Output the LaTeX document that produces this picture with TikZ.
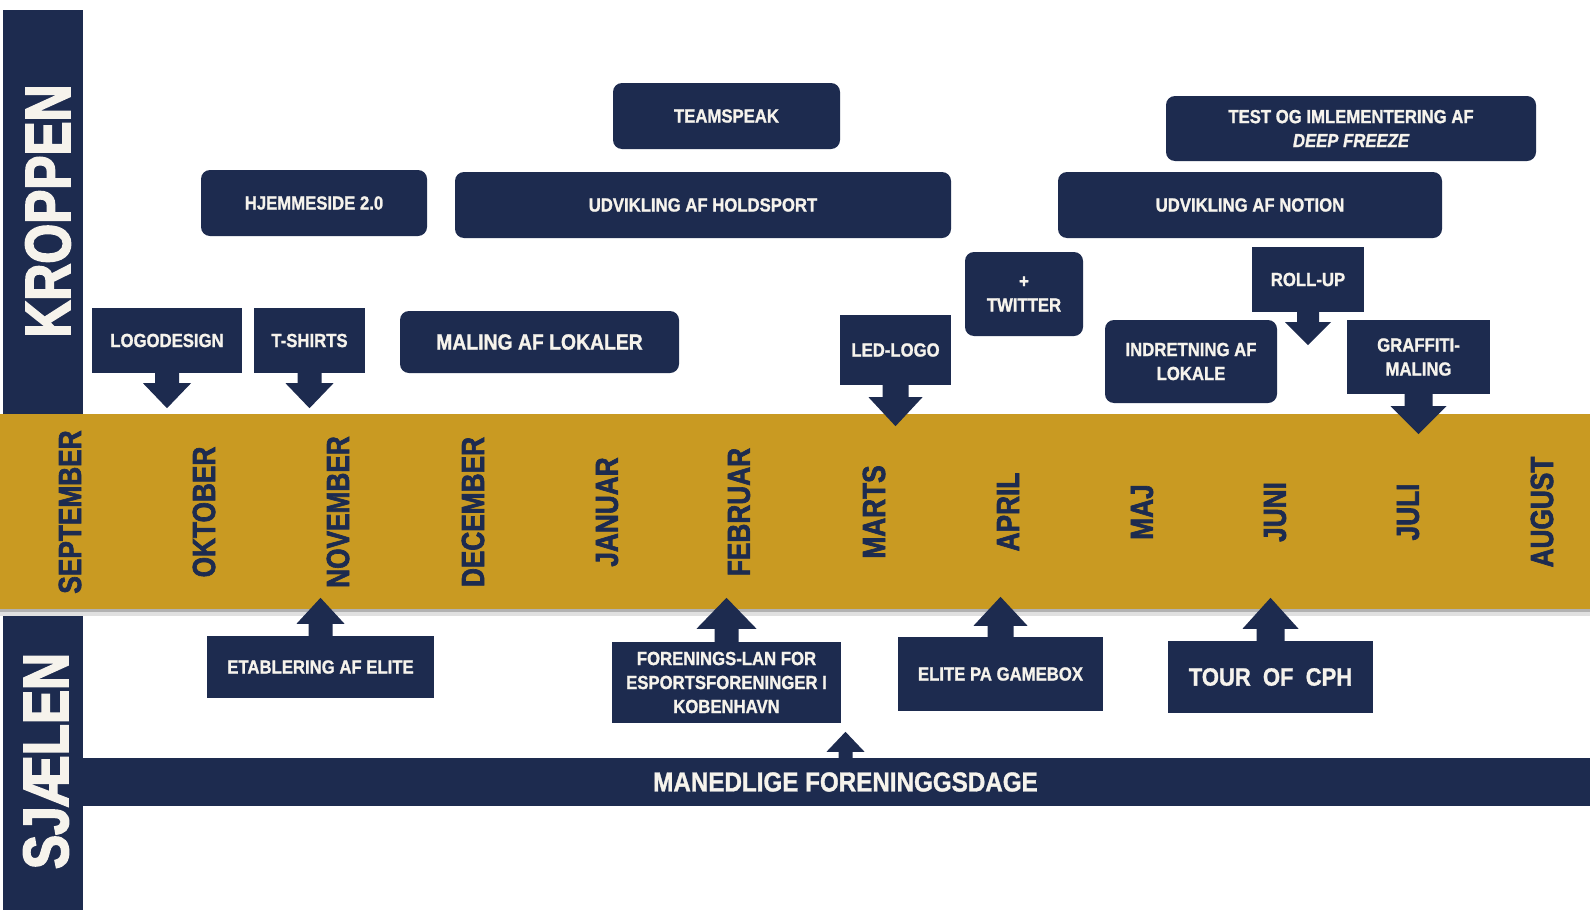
\documentclass[tikz,border=0pt]{standalone}
\usepackage{fontspec}
\newfontfamily\bxfont[FakeStretch=0.88, FakeBold=1.2, ItalicFont={Liberation Sans Bold Italic}]{Liberation Sans Bold}
\newfontfamily\mofont[FakeStretch=0.82, FakeBold=2]{Liberation Sans Bold}
\newfontfamily\bgfont[FakeStretch=0.8, FakeBold=2.5]{Liberation Sans Bold}
\definecolor{navy}{HTML}{1D2B4F}
\definecolor{gold}{HTML}{C99A22}
\definecolor{txt}{HTML}{F6F3EC}
\newcommand\arrdn[5]{%
 \fill[navy] (#1) ++(-#4pt,1pt) -- ++(0,-#2pt-1pt) -- ++(#4pt-#5pt,0) -- ++(#5pt,-#3pt) -- ++(#5pt,#3pt) -- ++(#4pt-#5pt,0) -- ++(0,#2pt+1pt) -- cycle;}
\newcommand\arrup[5]{%
 \fill[navy] (#1) ++(-#4pt,-1pt) -- ++(0,#2pt+1pt) -- ++(#4pt-#5pt,0) -- ++(#5pt,#3pt) -- ++(#5pt,-#3pt) -- ++(#4pt-#5pt,0) -- ++(0,-#2pt-1pt) -- cycle;}
\tikzset{
 base/.style={fill=navy, text=txt, inner sep=0pt, align=center},
 rbox/.style={base, rounded corners=9pt},
 sbox/.style={base},
 wh/.style 2 args={minimum width=#1pt, minimum height=#2pt},
 sm/.style={font=\bxfont\fontsize{19}{24}\selectfont},
 md/.style={font=\bxfont\fontsize{22}{26}\selectfont},
 lg/.style={font=\bxfont\fontsize{25}{28}\selectfont},
 month/.style={rotate=90, text=navy, font=\mofont\fontsize{32}{36}\selectfont, inner sep=0pt},
 side/.style={rotate=90, text=txt, font=\bgfont\fontsize{64}{70}\selectfont, inner sep=0pt},
}
\begin{document}
\begin{tikzpicture}[x=1pt,y=-1pt]
\useasboundingbox (0,0) rectangle (1590,910);
\fill[white] (0,0) rectangle (1590,910);
% band and side bars
\fill[navy] (3,10) rectangle (83,414);
\fill[navy] (3,609) rectangle (83,910);
\fill[black!30] (0,609) rectangle (1590,612);
\fill[black!12] (0,612) rectangle (1590,616);
\node[fill=gold, inner sep=0pt, wh={1590}{195}] (band) at (795,511.5) {};
\node[side] (kroppen) at (48,211) {KROPPEN};
\node[side] (sjaelen) at (46,761) {SJÆLEN};
% months
\node[month] (m1) at (70,512) {SEPTEMBER};
\node[month] (m2) at (204,512) {OKTOBER};
\node[month] (m3) at (338,512) {NOVEMBER};
\node[month] (m4) at (473,512) {DECEMBER};
\node[month] (m5) at (607,512) {JANUAR};
\node[month] (m6) at (739,512) {FEBRUAR};
\node[month] (m7) at (874,512) {MARTS};
\node[month] (m8) at (1008,512) {APRIL};
\node[month] (m9) at (1142,512) {MAJ};
\node[month] (m10) at (1275,512) {JUNI};
\node[month] (m11) at (1408,512) {JULI};
\node[month] (m12) at (1542,512) {AUGUST};
% upper boxes
\node[rbox, sm, wh={227}{66}] (teamspeak) at (726.5,116) {TEAMSPEAK};
\node[rbox, sm, wh={226}{66}] (hjem) at (314,203) {HJEMMESIDE 2.0};
\node[rbox, sm, wh={496}{66}] (holdsport) at (703,205) {UDVIKLING AF HOLDSPORT};
\node[rbox, sm, wh={370}{65}] (freeze) at (1351,128.5) {TEST OG IMLEMENTERING AF\\\itshape DEEP FREEZE};
\node[rbox, sm, wh={384}{66}] (notion) at (1250,205) {UDVIKLING AF NOTION};
\node[rbox, sm, wh={118}{84}] (twitter) at (1024,294) {+\\TWITTER};
\node[sbox, sm, wh={112}{65}] (rollup) at (1308,279.5) {ROLL-UP};
\node[rbox, sm, wh={172}{83}] (indret) at (1191,361.5) {INDRETNING AF\\LOKALE};
\node[sbox, sm, wh={143}{74}] (graffiti) at (1418.5,357) {GRAFFITI-\\MALING};
\node[sbox, sm, wh={150}{65}] (logo) at (167,340.5) {LOGODESIGN};
\node[sbox, sm, wh={111}{65}] (tshirts) at (309.5,340.5) {T-SHIRTS};
\node[rbox, md, wh={279}{62}] (maling) at (539.5,342) {MALING AF LOKALER};
\node[sbox, sm, wh={111}{70}] (led) at (895.5,350) {LED-LOGO};
% lower boxes
\node[sbox, sm, wh={227}{62}] (etab) at (320.5,667) {ETABLERING AF ELITE};
\node[sbox, sm, wh={229}{81}] (forenings) at (726.5,682.5) {FORENINGS-LAN FOR\\ESPORTSFORENINGER I\\KOBENHAVN};
\node[sbox, sm, wh={205}{74}] (gamebox) at (1000.5,674) {ELITE PA GAMEBOX};
\node[sbox, lg, wh={205}{72}] (tour) at (1270.5,677) {TOUR\ \ OF\ \ CPH};
\node[sbox, font=\bxfont\fontsize{27.5}{30}\selectfont, wh={1507}{48}] (mdbar) at (836.5,782) {\hspace*{18pt}MANEDLIGE FORENINGGSDAGE};
% block arrows
\arrdn{logo.south}{10}{25}{12}{24}
\arrdn{tshirts.south}{10}{25}{12}{24}
\arrdn{led.south}{12}{29}{13}{27}
\arrdn{rollup.south}{10}{23}{11}{23}
\arrdn{graffiti.south}{12}{28}{14}{28}
\arrup{etab.north}{12}{26}{12}{24}
\arrup{forenings.north}{13}{31}{12}{30}
\arrup{gamebox.north}{11}{29}{13}{27}
\arrup{tour.north}{12}{31}{14}{28}
\arrup{[xshift=9pt]mdbar.north}{6}{20}{7}{19}
\end{tikzpicture}
\end{document}
